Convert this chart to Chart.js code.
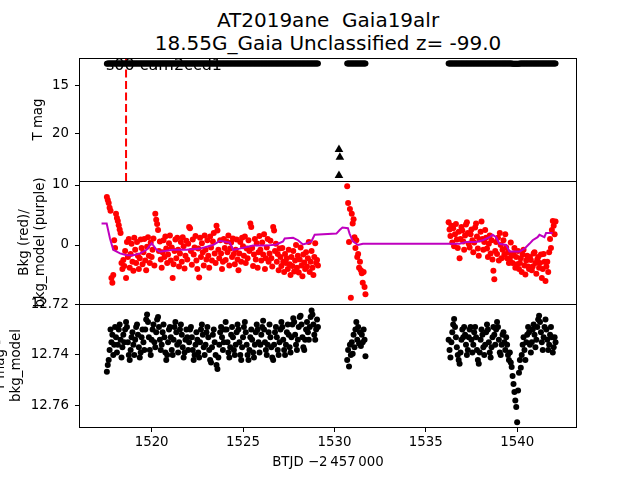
<!DOCTYPE html>
<html lang="en">
<head>
<meta charset="UTF-8">
<title>AT2019ane light curve</title>
<script src="https://cdn.jsdelivr.net/npm/chart.js"></script>
<style>
  body { margin: 0; background: #fff; }
  #wrap { position: relative; width: 640px; height: 480px; overflow: hidden; font-family: 'DejaVu Sans', sans-serif; }
  #wrap canvas { position: absolute; left: 0; }
  #title { position: absolute; left: 80px; width: 496px; top: 9px; text-align: center; font-size: 20px; line-height: 23px; color: #000; white-space: pre; }
</style>
</head>
<body>
<div id="wrap">
  <div id="title">AT2019ane  Gaia19alr<br>18.55G_Gaia Unclassified z= -99.0</div>
  <canvas id="magChart" width="640" height="200" style="top:0px"></canvas>
  <canvas id="bkgChart" width="640" height="180" style="top:150px"></canvas>
  <canvas id="diffChart" width="640" height="210" style="top:270px"></canvas>
</div>
<script>
// first orbit
const orbit1Time = [
  1517.55,1517.60,1517.65,1517.70,1517.75,1517.80,1517.85,1517.90,1517.95,1518.00,
  1518.05,1518.10,1518.15,1518.20,1518.25,1518.30,1518.35,1518.40,1518.45,1518.50,
  1518.55,1518.60,1518.65,1518.70,1518.75,1518.80,1518.85,1518.90,1518.95,1519.00,
  1519.05,1519.10,1519.15,1519.20,1519.25,1519.30,1519.35,1519.40,1519.45,1519.50,
  1519.55,1519.60,1519.65,1519.70,1519.75,1519.80,1519.85,1519.90,1519.95,1520.00,
  1520.05,1520.10,1520.15,1520.20,1520.25,1520.30,1520.35,1520.40,1520.45,1520.50,
  1520.55,1520.60,1520.65,1520.70,1520.75,1520.80,1520.85,1520.90,1520.95,1521.00,
  1521.05,1521.10,1521.15,1521.20,1521.25,1521.30,1521.35,1521.40,1521.45,1521.50,
  1521.55,1521.60,1521.65,1521.70,1521.75,1521.80,1521.85,1521.90,1521.95,1522.00,
  1522.05,1522.10,1522.15,1522.20,1522.25,1522.30,1522.35,1522.40,1522.45,1522.50,
  1522.55,1522.60,1522.65,1522.70,1522.75,1522.80,1522.85,1522.90,1522.95,1523.00,
  1523.05,1523.10,1523.15,1523.20,1523.25,1523.30,1523.35,1523.40,1523.45,1523.50,
  1523.55,1523.60,1523.65,1523.70,1523.75,1523.80,1523.85,1523.90,1523.95,1524.00,
  1524.05,1524.10,1524.15,1524.20,1524.25,1524.30,1524.35,1524.40,1524.45,1524.50,
  1524.55,1524.60,1524.65,1524.70,1524.75,1524.80,1524.85,1524.90,1524.95,1525.00,
  1525.05,1525.10,1525.15,1525.20,1525.25,1525.30,1525.35,1525.40,1525.45,1525.50,
  1525.55,1525.60,1525.65,1525.70,1525.75,1525.80,1525.85,1525.90,1525.95,1526.00,
  1526.05,1526.10,1526.15,1526.20,1526.25,1526.30,1526.35,1526.40,1526.45,1526.50,
  1526.55,1526.60,1526.65,1526.70,1526.75,1526.80,1526.85,1526.90,1526.95,1527.00,
  1527.05,1527.10,1527.15,1527.20,1527.25,1527.30,1527.35,1527.40,1527.45,1527.50,
  1527.55,1527.60,1527.65,1527.70,1527.75,1527.80,1527.85,1527.90,1527.95,1528.00,
  1528.05,1528.10,1528.15,1528.20,1528.25,1528.30,1528.35,1528.40,1528.45,1528.50,
  1528.55,1528.60,1528.65,1528.70,1528.75,1528.80,1528.85,1528.90,1528.95,1529.00,
  1529.05,1529.10
];
const orbit1Mag = [
  12.7466,12.7440,12.7420,12.7380,12.7300,12.7350,12.7320,12.7400,12.7360,12.7290,
  12.7330,12.7390,12.7360,12.7300,12.7280,12.7340,12.7410,12.7370,12.7320,12.7350,
  12.7300,12.7270,12.7290,12.7350,12.7400,12.7420,12.7380,12.7330,12.7310,12.7360,
  12.7400,12.7340,12.7290,12.7280,12.7320,12.7370,12.7410,12.7390,12.7330,12.7300,
  12.7350,12.7380,12.7300,12.7260,12.7240,12.7270,12.7330,12.7380,12.7400,12.7340,
  12.7300,12.7280,12.7350,12.7370,12.7310,12.7260,12.7250,12.7290,12.7340,12.7380,
  12.7360,12.7310,12.7280,12.7330,12.7390,12.7420,12.7400,12.7350,12.7300,12.7290,
  12.7330,12.7380,12.7400,12.7340,12.7290,12.7270,12.7310,12.7360,12.7390,12.7350,
  12.7300,12.7280,12.7320,12.7370,12.7410,12.7390,12.7340,12.7300,12.7330,12.7380,
  12.7350,12.7300,12.7290,12.7330,12.7380,12.7420,12.7400,12.7360,12.7310,12.7340,
  12.7390,12.7410,12.7350,12.7300,12.7280,12.7320,12.7370,12.7400,12.7360,12.7310,
  12.7290,12.7330,12.7380,12.7420,12.7430,12.7370,12.7320,12.7300,12.7350,12.7400,
  12.7440,12.7455,12.7410,12.7360,12.7310,12.7290,12.7330,12.7380,12.7350,12.7300,
  12.7270,12.7300,12.7350,12.7390,12.7410,12.7370,12.7320,12.7290,12.7330,12.7380,
  12.7400,12.7360,12.7310,12.7280,12.7300,12.7350,12.7400,12.7420,12.7370,12.7330,
  12.7290,12.7270,12.7310,12.7360,12.7400,12.7420,12.7380,12.7330,12.7300,12.7340,
  12.7390,12.7410,12.7360,12.7310,12.7280,12.7300,12.7350,12.7390,12.7360,12.7320,
  12.7290,12.7265,12.7300,12.7350,12.7380,12.7400,12.7360,12.7310,12.7280,12.7330,
  12.7370,12.7410,12.7420,12.7360,12.7310,12.7290,12.7330,12.7380,12.7400,12.7350,
  12.7300,12.7270,12.7290,12.7340,12.7380,12.7400,12.7360,12.7310,12.7280,12.7320,
  12.7370,12.7390,12.7330,12.7280,12.7255,12.7270,12.7320,12.7360,12.7380,12.7340,
  12.7290,12.7250,12.7245,12.7280,12.7330,12.7370,12.7380,12.7340,12.7300,12.7270,
  12.7310,12.7340,12.7290,12.7250,12.7225,12.7240,12.7280,12.7320,12.7340,12.7300,
  12.7260,12.7290
];
const orbit1Bkg = [
  8.0,7.5,7.0,6.2,5.7,-5.5,-6.3,-5.0,0.8,-0.5,
  5.2,4.5,4.0,3.3,2.6,2.0,-3.0,-4.0,-2.5,-3.5,
  -1.0,-5.5,0.5,-2.0,1.0,-3.8,-1.5,0.2,-2.8,-4.3,
  1.2,-0.8,-3.0,0.5,-1.8,-4.0,-2.2,0.9,-0.5,-3.2,
  -1.2,1.0,-2.6,-4.2,-0.3,1.3,-1.8,-3.0,0.4,-2.0,
  -0.8,1.1,-3.4,5.2,4.2,3.5,2.5,-1.0,0.6,-2.4,
  -3.8,-1.2,0.8,-2.0,1.4,-0.6,-3.0,-1.6,0.3,1.6,
  -2.6,-0.4,-5.5,-3.2,-1.0,0.9,-2.2,1.2,-0.8,-3.6,
  -1.4,0.5,-2.8,1.3,-0.2,-3.9,-1.8,0.7,-2.4,0.2,
  3.0,2.8,-1.0,-3.3,0.9,-1.6,-0.4,1.5,-2.6,-4.0,
  -0.6,-5.4,1.2,-2.0,0.3,-1.2,-3.4,1.6,-0.8,-2.4,
  0.8,-1.8,-3.8,1.4,-0.4,-2.6,0.6,2.0,-1.4,-3.0,
  3.2,2.4,-0.8,-2.2,0.8,-1.4,-4.0,-2.8,1.0,-0.5,
  -2.5,0.6,-1.2,1.6,-3.4,-0.6,0.4,-2.0,1.1,-1.5,
  -3.2,-0.8,0.9,-2.4,-4.2,-1.4,0.5,-2.8,1.2,-0.2,
  -1.8,1.4,-3.0,-0.6,-2.2,0.8,-1.0,3.6,3.0,-0.5,
  -3.5,-1.6,1.0,-2.4,0.3,-3.8,-1.2,1.5,-0.8,-2.6,
  0.4,-1.6,1.8,-4.0,-2.2,-0.4,1.0,-2.8,-1.4,0.7,
  -2.2,-3.6,3.0,2.4,-1.0,0.2,-2.8,-1.5,-4.2,-0.6,
  -2.0,-3.5,-0.5,-2.8,-4.5,-1.5,-3.0,-2.2,-4.0,-0.8,
  -3.2,-5.0,-2.0,-3.5,-1.0,-4.4,-2.6,0.0,-3.8,-1.8,
  -4.6,-2.4,-0.4,-3.4,-5.2,-1.6,-2.9,-4.0,-1.2,-3.6,
  -2.2,0.5,-4.5,-2.8,-1.0,-3.8,-5.0,-2.0,0.3,-3.0,
  -2.5,-3.4
];

// short stretch after the gap
const orbit2Time = [
  1530.70,1530.75,1530.80,1530.85,1530.90,1530.95,1531.00,1531.05,1531.10,1531.15,
  1531.20,1531.25,1531.30,1531.35,1531.40,1531.45,1531.50,1531.55,1531.60,1531.65,1531.70
];
const orbit2Mag = [
  12.7420,12.7380,12.7445,12.7360,12.7400,12.7350,12.7395,12.7320,12.7370,12.7300,
  12.7270,12.7340,12.7290,12.7355,12.7310,12.7365,12.7320,12.7350,12.7300,12.7340,12.7405
];
const orbit2Bkg = [
  9.8,7.0,0.5,6.0,-8.8,5.2,3.6,4.3,1.3,-0.5,
  0.8,-2.0,-1.5,-3.8,-2.8,-4.2,-4.7,-6.3,-4.5,-7.0,-8.2
];

// second orbit
const orbit3Time = [
  1536.25,1536.30,1536.35,1536.40,1536.45,1536.50,1536.55,1536.60,1536.65,1536.70,
  1536.75,1536.80,1536.85,1536.90,1536.95,1537.00,1537.05,1537.10,1537.15,1537.20,
  1537.25,1537.30,1537.35,1537.40,1537.45,1537.50,1537.55,1537.60,1537.65,1537.70,
  1537.75,1537.80,1537.85,1537.90,1537.95,1538.00,1538.05,1538.10,1538.15,1538.20,
  1538.25,1538.30,1538.35,1538.40,1538.45,1538.50,1538.55,1538.60,1538.65,1538.70,
  1538.75,1538.80,1538.85,1538.90,1538.95,1539.00,1539.05,1539.10,1539.15,1539.20,
  1539.25,1539.30,1539.35,1539.40,1539.45,1539.50,1539.55,1539.60,1539.65,1539.70,
  1539.75,1539.80,1539.85,1539.90,1539.95,1540.00,1540.05,1540.10,1540.15,1540.20,
  1540.25,1540.30,1540.35,1540.40,1540.45,1540.50,1540.55,1540.60,1540.65,1540.70,
  1540.75,1540.80,1540.85,1540.90,1540.95,1541.00,1541.05,1541.10,1541.15,1541.20,
  1541.25,1541.30,1541.35,1541.40,1541.45,1541.50,1541.55,1541.60,1541.65,1541.70,
  1541.75,1541.80,1541.85,1541.90,1541.95,1542.00,1542.05,1542.10
];
const orbit3Mag = [
  12.7340,12.7380,12.7410,12.7350,12.7310,12.7280,12.7258,12.7290,12.7330,12.7370,
  12.7400,12.7420,12.7435,12.7390,12.7340,12.7300,12.7330,12.7290,12.7320,12.7360,
  12.7400,12.7380,12.7330,12.7300,12.7290,12.7340,12.7390,12.7360,12.7310,12.7290,
  12.7330,12.7380,12.7420,12.7435,12.7390,12.7340,12.7300,12.7320,12.7370,12.7400,
  12.7360,12.7310,12.7280,12.7300,12.7350,12.7390,12.7410,12.7370,12.7330,12.7290,
  12.7320,12.7360,12.7300,12.7270,12.7290,12.7340,12.7390,12.7400,12.7360,12.7320,
  12.7310,12.7350,12.7380,12.7330,12.7360,12.7400,12.7420,12.7390,12.7430,12.7447,
  12.7483,12.7514,12.7546,12.7580,12.7605,12.7665,12.7540,12.7470,12.7420,12.7450,
  12.7400,12.7360,12.7330,12.7380,12.7420,12.7350,12.7320,12.7290,12.7310,12.7360,
  12.7390,12.7350,12.7300,12.7280,12.7320,12.7370,12.7340,12.7290,12.7260,12.7245,
  12.7270,12.7310,12.7350,12.7380,12.7330,12.7290,12.7260,12.7300,12.7340,12.7380,
  12.7360,12.7320,12.7290,12.7330,12.7390,12.7370,12.7330,12.7350
];
const orbit3Bkg = [
  3.8,2.6,1.5,3.2,0.4,2.8,-0.2,1.8,3.5,0.9,
  -0.5,2.2,-2.2,1.0,3.0,2.4,0.6,-0.8,1.6,3.4,
  3.8,2.0,0.2,-0.4,1.8,2.6,0.8,-1.2,0.4,2.9,
  3.6,1.4,-0.6,-1.8,0.9,2.2,3.9,1.0,-0.8,0.5,
  2.5,1.2,-0.6,-2.0,0.2,1.6,-1.4,0.8,-2.4,-4.3,
  -5.7,-1.0,0.5,-1.5,1.2,-2.6,2.0,0.0,-2.2,-0.8,
  0.8,-1.6,1.8,-0.4,-2.2,-1.2,-3.0,-2.5,0.4,-1.8,
  -3.0,-1.5,-0.5,-3.8,-2.0,-3.2,-1.0,-4.0,-3.0,-2.2,
  -4.5,-1.6,-0.8,-3.4,-4.9,-2.6,-1.8,-3.6,-4.0,-2.0,
  -2.5,-4.2,-3.6,-1.4,-1.2,-3.0,-4.8,-2.4,-2.0,-3.8,
  -3.0,-1.6,-5.5,-4.0,-1.5,-2.8,-6.0,-3.6,-2.8,-4.5,
  -1.2,1.0,-0.5,2.5,4.0,3.2,1.8,3.9
];

// background model (purple line)
const modelTime = [
  1517.26,1517.54,1517.72,1517.90,1518.27,1518.63,1519.00,1519.36,1519.72,1520.00,
  1520.27,1520.45,1521.18,1521.91,1522.64,1523.36,1523.73,1524.28,1524.46,1524.82,
  1525.55,1526.28,1526.83,1527.19,1527.28,1527.74,1528.01,1528.28,1528.50,1528.74,
  1528.92,1530.11,1530.29,1530.44,1530.74,1530.83,1531.01,1531.29,1531.56,1536.30,
  1536.85,1537.21,1537.76,1538.12,1538.48,1538.66,1538.85,1539.03,1539.40,1539.58,
  1540.12,1540.40,1540.67,1540.85,1541.12,1541.22,1541.49,1541.58,1541.94
];
const modelBkg = [
  3.6,3.6,1.1,-0.8,-1.4,-1.7,-1.7,-1.4,-0.8,0.3,
  -0.8,-1.1,-0.8,-0.8,-0.6,0.0,0.7,0.4,-0.8,-0.6,
  -0.1,-0.1,0.1,0.6,1.1,1.2,0.8,0.1,0.3,0.6,
  1.7,1.9,2.5,2.9,2.8,1.9,0.6,0.0,0.2,0.2,
  0.2,0.5,0.5,0.8,1.3,1.7,1.3,0.2,0.0,-1.1,
  -1.1,-0.6,0.2,0.8,1.3,1.7,1.3,2.0,2.0
];

// upper limits (triangles) and the marked epoch
const limitTime = [1530.25, 1530.3, 1530.25];
const limitMag = [21.7, 22.5, 24.4];
const eventTime = 1518.6;
const stampText = 's00 cam2ccd1';
const stampTime = 1517.5, stampMag = 13.4;

// axes
const tMin = 1516.08, tMax = 1543.22;
const xTicks = [1520, 1525, 1530, 1535, 1540];
const magRange = [12.16, 24.97], magTicks = [15, 20];
const bkgRange = [-9.83, 10.67], bkgTicks = [10, 0];
const diffRange = [12.7199, 12.7684], diffTicks = [12.72, 12.74, 12.76];

const allTime = orbit1Time.concat(orbit2Time, orbit3Time);
const allMag = orbit1Mag.concat(orbit2Mag, orbit3Mag);
const allBkg = orbit1Bkg.concat(orbit2Bkg, orbit3Bkg);

Chart.defaults.font.family = "'DejaVu Sans', sans-serif";
Chart.defaults.font.size = 13.33;
Chart.defaults.color = '#000';

const pts = (xs, ys) => xs.map((x, i) => ({x: x, y: ys[i]}));

// box around each panel
const frame = {
  id: 'frame',
  afterDraw(chart) {
    const {ctx, chartArea: a} = chart;
    ctx.save();
    ctx.strokeStyle = '#000';
    ctx.lineWidth = 1;
    ctx.strokeRect(Math.round(a.left) - 0.5, Math.round(a.top) + 0.5, Math.round(a.width) + 1, Math.round(a.height));
    ctx.restore();
  }
};

const stamp = {
  id: 'stamp',
  afterDatasetsDraw(chart) {
    const {ctx, scales} = chart;
    ctx.save();
    ctx.fillStyle = '#000';
    ctx.font = "16px 'DejaVu Sans', sans-serif";
    ctx.textBaseline = 'alphabetic';
    ctx.fillText(stampText, scales.x.getPixelForValue(stampTime), scales.y.getPixelForValue(stampMag));
    ctx.restore();
  }
};

function xAxis(show) {
  return {
    type: 'linear', min: tMin, max: tMax, display: show,
    afterFit(s) { if (show) s.height = 53; },
    afterBuildTicks(s) { s.ticks = xTicks.map(v => ({value: v})); },
    grid: { drawOnChartArea: false, drawTicks: true, tickLength: 5, color: '#000' },
    border: { display: false },
    ticks: { padding: 3, maxRotation: 0, callback: v => String(v) },
    title: { display: true, text: 'BTJD \u22122\u2009457\u2009000', padding: {top: 0, bottom: 9} }
  };
}

function yAxis(range, ticks, reverse, title, pad, fmt) {
  return {
    type: 'linear', position: 'left', min: range[0], max: range[1], reverse: reverse,
    afterFit(s) { s.width = 80; s.paddingTop = 0; s.paddingBottom = 0; },
    afterBuildTicks(s) { s.ticks = ticks.map(v => ({value: v})); },
    grid: { drawOnChartArea: false, drawTicks: true, tickLength: 5, color: '#000' },
    border: { display: false },
    ticks: { padding: 6, callback: fmt },
    title: { display: true, text: title, padding: {top: pad, bottom: 0}, font: {lineHeight: 1.2} }
  };
}

function baseOptions(padTop, padBottom, xShow, y) {
  return {
    responsive: false, animation: false, devicePixelRatio: 1,
    layout: { padding: {left: 0, right: 64, top: padTop, bottom: padBottom} },
    plugins: { legend: {display: false}, tooltip: {enabled: false} },
    scales: { x: xAxis(xShow), y: y }
  };
}

new Chart(document.getElementById('magChart'), {
  type: 'scatter',
  data: {
    datasets: [
      { data: pts(allTime, allMag), pointRadius: 3, pointBorderWidth: 0, pointBackgroundColor: '#000' },
      { data: pts(limitTime, limitMag), pointStyle: 'triangle', pointRadius: 5, pointBorderWidth: 0, pointBackgroundColor: '#000' },
      { data: [{x: eventTime, y: magRange[0]}, {x: eventTime, y: magRange[1]}], showLine: true, pointRadius: 0,
        borderColor: '#ff0000', borderWidth: 2, borderDash: [8, 3.5] }
    ]
  },
  options: baseOptions(58, 19, false, yAxis(magRange, magTicks, true, 'T mag', 31, v => String(v))),
  plugins: [frame, stamp]
});

new Chart(document.getElementById('bkgChart'), {
  type: 'scatter',
  data: {
    datasets: [
      { data: pts(modelTime, modelBkg), showLine: true, pointRadius: 0, borderColor: '#bf00bf', borderWidth: 2, order: 0 },
      { data: pts(allTime, allBkg), pointRadius: 3, pointBorderWidth: 0, pointBackgroundColor: '#ff0000', order: 1 }
    ]
  },
  options: baseOptions(31, 26, false, yAxis(bkgRange, bkgTicks, false, ['Bkg (red)/', 'bkg_model (purple)'], 16.5, v => String(v))),
  plugins: [frame]
});

new Chart(document.getElementById('diffChart'), {
  type: 'scatter',
  data: {
    datasets: [
      { data: pts(allTime, allMag), pointRadius: 3, pointBorderWidth: 0, pointBackgroundColor: '#000' }
    ]
  },
  options: baseOptions(34, 0, true, yAxis(diffRange, diffTicks, true, ['T mag -', 'bkg_model'], -7, v => v.toFixed(2))),
  plugins: [frame]
});
</script>
</body>
</html>
